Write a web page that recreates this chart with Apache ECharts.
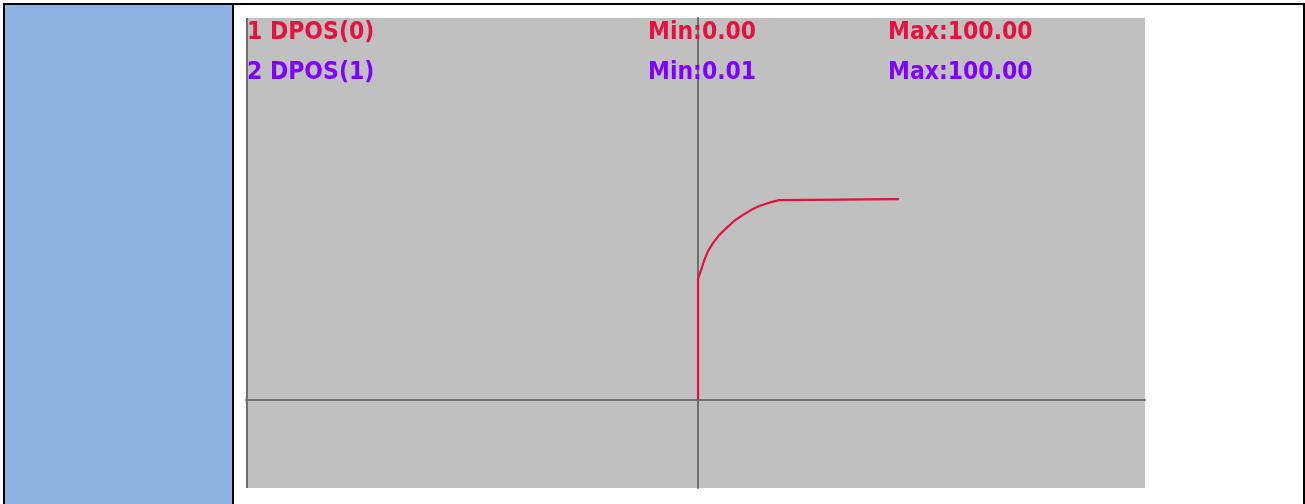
<!DOCTYPE html>
<html>
<head>
<meta charset="utf-8">
<script src="https://cdn.jsdelivr.net/npm/echarts@6/dist/echarts.min.js"></script>
<style>
html,body{margin:0;padding:0;background:#fff;}
#chart{width:1305px;height:504px;}
</style>
</head>
<body>
<div id="chart"></div>
<script>
// Data (time in arbitrary units, position values)
var timeAxis = [0, 0, 1.5, 3.1, 4.8, 7.3, 10.5, 13.9, 18.0, 22.1, 26.2, 30.3, 35.3, 40.2, 40.6, 99.5];
var dpos0 = [0.00, 60.5, 64.5, 69.5, 73.7, 77.9, 82.0, 85.4, 89.2, 92.0, 94.5, 96.5, 98.2, 99.5, 100.00, 100.00];
var dpos1 = [0.01, 60.5, 64.5, 69.5, 73.7, 77.9, 82.0, 85.4, 89.2, 92.0, 94.5, 96.5, 98.2, 99.5, 100.00, 100.00];
var seriesNames = ['1 DPOS(0)', '2 DPOS(1)'];
var minLabels = ['Min:0.00', 'Min:0.01'];
var maxLabels = ['Max:100.00', 'Max:100.00'];

var RED = '#E4123C';
var PURPLE = '#8000FF';

function pairs(xs, ys) { return xs.map(function (x, i) { return [x, ys[i]]; }); }

var chart = echarts.init(document.getElementById('chart'), null, {renderer: 'canvas'});
function label(x, y, text, color) {
  return {type: 'text', x: x, y: y, scaleY: 1.1, z: 100,
    style: {text: text, fill: color, font: 'bold 22px "DejaVu Sans"', textVerticalAlign: 'top'}};
}
chart.setOption({
  animation: false,
  backgroundColor: '#ffffff',
  grid: {left: 246, top: 18, width: 899, height: 470, show: true, backgroundColor: '#C0C0C0', borderWidth: 0, containLabel: false},
  xAxis: {type: 'value', min: -224, max: 221.5,
    axisLine: {show: true, onZero: true, lineStyle: {color: '#6E6E6E', width: 2}},
    axisTick: {show: false}, axisLabel: {show: false}, splitLine: {show: false}},
  yAxis: {type: 'value', min: -44.1, max: 190.3,
    axisLine: {show: true, onZero: true, lineStyle: {color: '#6E6E6E', width: 2}},
    axisTick: {show: false}, axisLabel: {show: false}, splitLine: {show: false}},
  series: [
    {name: seriesNames[1], type: 'line', data: pairs(timeAxis, dpos1), showSymbol: false, symbol: 'none',
      lineStyle: {color: PURPLE, width: 1}, z: 2},
    {name: seriesNames[0], type: 'line', data: pairs(timeAxis, dpos0), showSymbol: false, symbol: 'none',
      lineStyle: {color: RED, width: 2.2}, z: 3}
  ],
  graphic: [
    // table frame
    {type: 'rect', shape: {x: 5, y: 5, width: 227, height: 499}, style: {fill: '#8EB3E2'}, z: 0},
    {type: 'rect', shape: {x: 3, y: 3, width: 1302, height: 2}, style: {fill: '#000'}, z: 1},
    {type: 'rect', shape: {x: 3, y: 3, width: 2, height: 501}, style: {fill: '#000'}, z: 1},
    {type: 'rect', shape: {x: 232, y: 3, width: 2, height: 501}, style: {fill: '#000'}, z: 1},
    {type: 'rect', shape: {x: 1303, y: 3, width: 2, height: 501}, style: {fill: '#000'}, z: 1},
    // plot left edge
    {type: 'rect', shape: {x: 246, y: 18, width: 2, height: 470}, style: {fill: '#6E6E6E'}, z: 5},
    // legend / stats texts
    label(247, 21, seriesNames[0], RED),
    label(648, 21, minLabels[0], RED),
    label(888, 21, maxLabels[0], RED),
    label(247, 61, seriesNames[1], PURPLE),
    label(648, 61, minLabels[1], PURPLE),
    label(888, 61, maxLabels[1], PURPLE)
  ]
});
</script>
</body>
</html>
